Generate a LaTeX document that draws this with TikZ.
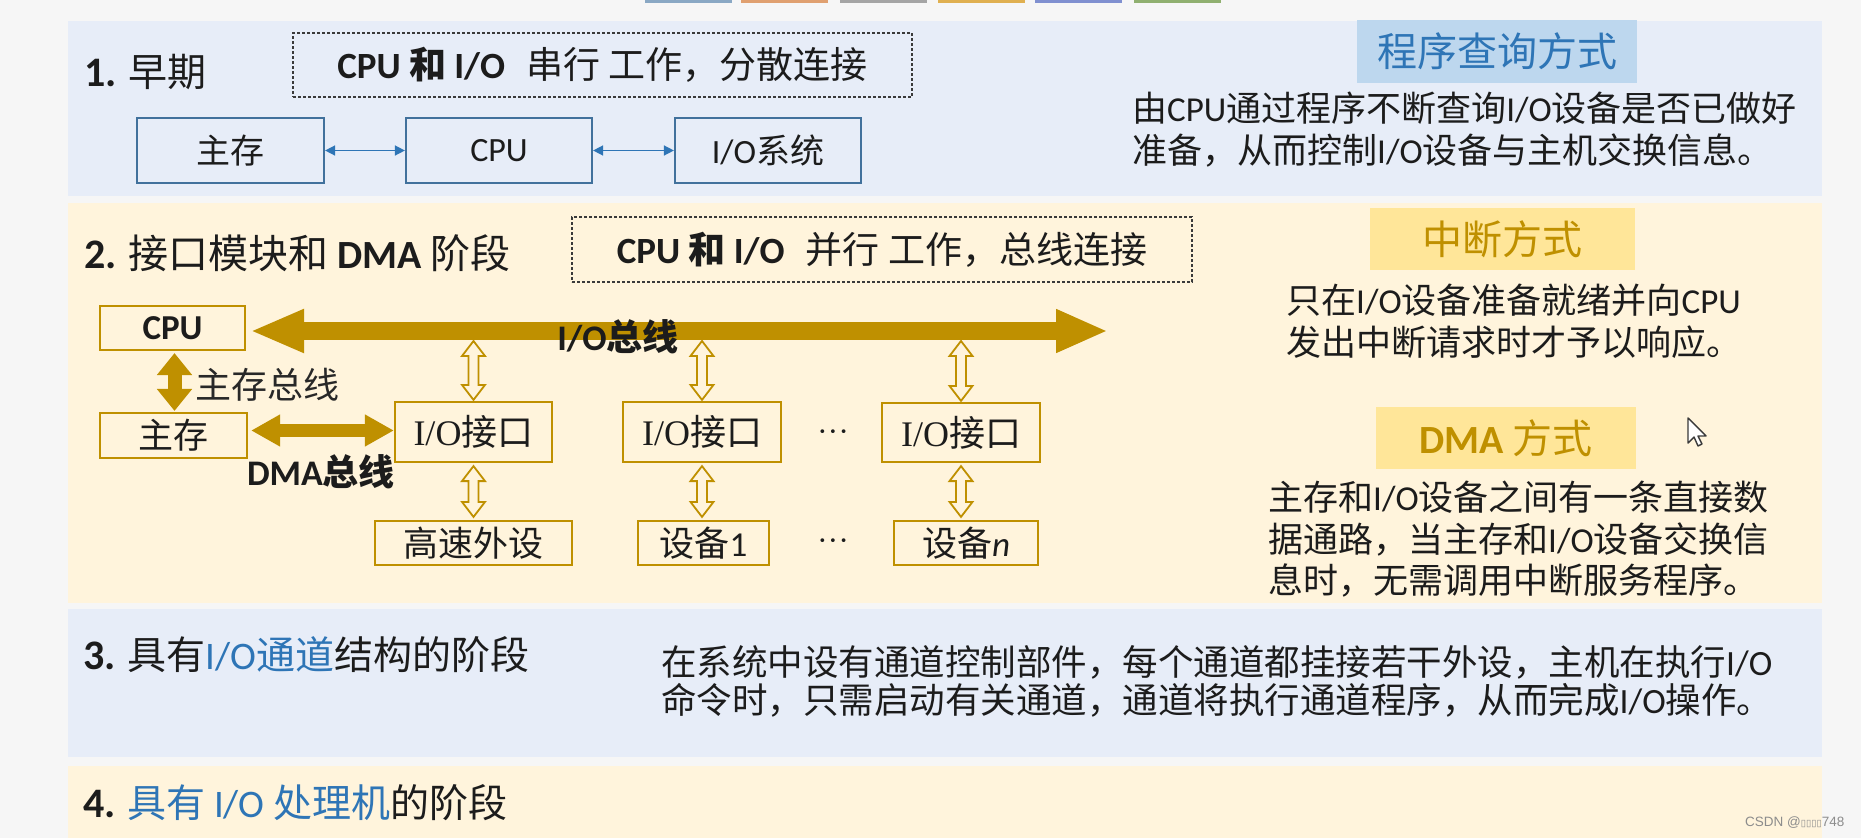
\documentclass[tikz,border=0pt]{standalone}
\usepackage{fontspec}
\setmainfont{Noto Sans CJK SC}
\newfontfamily\lat{Carlito}
\newfontfamily\lserif{Liberation Serif}
\newfontfamily\arialf{Liberation Sans}
\newfontfamily\dejavuf{DejaVu Sans}
\usetikzlibrary{arrows.meta,calc}
\definecolor{bg}{HTML}{F6F6F6}
\definecolor{pblue}{HTML}{E7EDF8}
\definecolor{pcream}{HTML}{FFF4DC}
\definecolor{gold}{HTML}{BF9000}
\definecolor{bedge}{HTML}{41719C}
\definecolor{barrow}{HTML}{2E75B6}
\definecolor{tblue}{HTML}{2E75B6}
\definecolor{lbfill}{HTML}{BDD7EE}
\definecolor{lgfill}{HTML}{FFE699}
\definecolor{tdark}{HTML}{1C1C1C}
\definecolor{dgray}{HTML}{3A3A3A}
\definecolor{wm}{HTML}{8C8C8C}
\newcommand\fz[1]{\fontsize{#1}{#1}\selectfont}
\newcommand\hollow[2]{\draw[hol] let \p1=(#1), \p2=(#2) in
  (\x1,\y1) -- (\x1+11.5pt,\y1-15pt) -- (\x1+5pt,\y1-15pt) -- (\x1+5pt,\y2+15pt)
  -- (\x1+11.5pt,\y2+15pt) -- (\x1,\y2) -- (\x1-11.5pt,\y2+15pt) -- (\x1-5pt,\y2+15pt)
  -- (\x1-5pt,\y1-15pt) -- (\x1-11.5pt,\y1-15pt) -- cycle;}
\newcommand\threedots{{\dejavuf\fz{13}•\hspace{3pt}•\hspace{3pt}•}}
\begin{document}
\begin{tikzpicture}[x=1pt,y=-1pt,
  txt/.style={inner sep=0pt, anchor=west, text=tdark},
  bbox/.style={draw=bedge, line width=2.2pt, inner sep=0pt, font=\fz{34}, text=tdark},
  gbox/.style={draw=gold, line width=2.2pt, inner sep=0pt, font=\fz{35}, text=tdark},
  dbox/.style={draw=dgray, line width=1.1pt, dash pattern=on 3pt off 2pt, inner sep=0pt, text=tdark},
  labb/.style={fill=lbfill, inner sep=0pt, font=\fz{40}, text=tblue},
  labg/.style={fill=lgfill, inner sep=0pt, font=\fz{40}, text=gold},
  barr/.style={draw=barrow, line width=1.5pt, {Triangle[length=10pt,width=10pt]}-{Triangle[length=10pt,width=10pt]}},
  gbar/.style={draw=gold},
  hol/.style={draw=gold, line width=1.8pt, fill=pcream, line join=miter},
  dotn/.style={inner sep=0pt, text=tdark},
  tab/.style={line width=0pt}
]
\useasboundingbox (0,0) rectangle (1861,838);
\fill[bg] (0,0) rectangle (1861,838);
% top tabs
\fill[tab, fill={rgb,255:red,138;green,168;blue,196}] (645,0) rectangle (732,3);
\fill[tab, fill={rgb,255:red,224;green,160;blue,112}] (741,0) rectangle (828,3);
\fill[tab, fill={rgb,255:red,165;green,165;blue,165}] (840,0) rectangle (927,3);
\fill[tab, fill={rgb,255:red,224;green,176;blue,80}] (938,0) rectangle (1025,3);
\fill[tab, fill={rgb,255:red,128;green,144;blue,208}] (1035,0) rectangle (1122,3);
\fill[tab, fill={rgb,255:red,144;green,176;blue,112}] (1134,0) rectangle (1221,3);
% panels
\fill[pblue] (68,21) rectangle (1822,196);
\fill[pcream] (68,203) rectangle (1822,603);
\fill[pblue] (68,609) rectangle (1822,757);
\fill[pcream] (68,766) rectangle (1822,838);

% ---------- panel 1
\node[txt, font=\fz{39}] (t1) at (84,72) {{\lat\bfseries\fz{42}1.} 早期};
\node[dbox, minimum width=619, minimum height=64, font=\fz{37}] (d1) at (602.5,65)
  {{\lat\bfseries CPU} \textbf{和} {\lat\bfseries I/O}\hspace{0.35em} 串行 工作，分散连接};
\node[bbox, minimum width=187, minimum height=65] (zc1) at (230.5,150.5) {主存};
\node[bbox, minimum width=186, minimum height=65] (cpu1) at (499,150.5) {\lat CPU};
\node[bbox, minimum width=186, minimum height=65] (io1) at (768,150.5) {{\lat I/O}系统};
\draw[barr] (zc1.east) -- (cpu1.west);
\draw[barr] (cpu1.east) -- (io1.west);
\node[labb, minimum width=280, minimum height=63] (l1) at (1497,51.5) {程序查询方式};
\node[txt, font=\fz{35}] (r1a) at (1132,108) {由{\lat CPU}通过程序不断查询{\lat I/O}设备是否已做好};
\node[txt, font=\fz{35}] (r1b) at (1132,150) {准备，从而控制{\lat I/O}设备与主机交换信息。};

% ---------- panel 2
\node[txt, font=\fz{40}] (t2) at (84,253) {{\lat\bfseries\fz{42}2.} 接口模块和 {\lat\bfseries DMA} 阶段};
\node[dbox, minimum width=620, minimum height=65, font=\fz{37}] (d2) at (882,249.5)
  {{\lat\bfseries CPU} \textbf{和} {\lat\bfseries I/O}\hspace{0.35em} 并行 工作，总线连接};
\node[gbox, minimum width=145, minimum height=44] (cpu2) at (172.5,328) {\lat\bfseries CPU};
\node[gbox, minimum width=147, minimum height=45] (zc2) at (173.5,435.5) {主存};
\node[gbox, minimum width=157, minimum height=60, font=\fz{36}] (if1) at (473.5,432) {{\lserif I/O}接口};
\node[gbox, minimum width=158, minimum height=60, font=\fz{36}] (if2) at (702,432) {{\lserif I/O}接口};
\node[gbox, minimum width=158, minimum height=59, font=\fz{36}] (if3) at (961,432.5) {{\lserif I/O}接口};
\node[gbox, minimum width=197, minimum height=44] (dv0) at (473.5,543) {高速外设};
\node[gbox, minimum width=131, minimum height=44] (dv1) at (703.5,543) {设备{\lat 1}};
\node[gbox, minimum width=144, minimum height=44] (dvn) at (966,543) {设备{\lat\itshape n}};
\node[dotn] (dots1) at (833,433) {\threedots};
\node[dotn] (dots2) at (833,542) {\threedots};
% I/O bus
\coordinate (busL) at ($(cpu2.east)+(4,3)$);
\coordinate (busR) at (1108,331);
\draw[gbar, line width=18pt, {Triangle[length=54pt,width=40pt]}-{Triangle[length=52pt,width=40pt]}] (busL) -- (busR);
\node[inner sep=0pt, font=\fz{36}, text=tdark] (busl) at (618,337) {{\lat\bfseries I/O}\textbf{总线}};
% memory bus
\draw[gbar, line width=14pt, {Triangle[length=22pt,width=34pt]}-{Triangle[length=22pt,width=34pt]}]
  ($(cpu2.south)+(2,2)$) -- ($(zc2.north)+(1,-1)$);
\node[txt, font=\fz{36}, text={rgb,255:red,40;green,40;blue,40}] (mbl) at (195,385) {主存总线};
% DMA bus
\coordinate (dmaL) at ($(zc2.east)+(3,-5)$);
\draw[gbar, line width=13pt, {Triangle[length=29pt,width=30pt]}-{Triangle[length=29pt,width=30pt]}]
  (dmaL) -- (dmaL -| if1.west);
\node[inner sep=0pt, font=\fz{36}, text=tdark] (dmal) at (321,472) {{\lat\bfseries DMA}\textbf{总线}};
% hollow arrows
\coordinate (busbot) at (0,341);
\hollow{if1.north |- busbot}{$(if1.north)+(0,-1)$}
\hollow{if2.north |- busbot}{$(if2.north)+(0,-1)$}
\hollow{if3.north |- busbot}{$(if3.north)+(0,-1)$}
\hollow{$(if1.south)+(0,3)$}{$(if1.south |- dv0.north)+(0,-3)$}
\hollow{$(if2.south)+(0,3)$}{$(if2.south |- dv1.north)+(0,-3)$}
\hollow{$(if3.south)+(0,3)$}{$(if3.south |- dvn.north)+(0,-3)$}
% right side
\node[labg, minimum width=265, minimum height=62] (l2) at (1502.5,239) {中断方式};
\node[txt, font=\fz{35}] (r2a) at (1286,300) {只在{\lat I/O}设备准备就绪并向{\lat CPU}};
\node[txt, font=\fz{35}] (r2b) at (1286,342) {发出中断请求时才予以响应。};
\node[labg, minimum width=260, minimum height=62] (l3) at (1506,438) {{\lat\bfseries DMA} 方式};
\node[txt, font=\fz{35}] (r3a) at (1268,497) {主存和{\lat I/O}设备之间有一条直接数};
\node[txt, font=\fz{35}] (r3b) at (1268,540) {据通路，当主存和{\lat I/O}设备交换信};
\node[txt, font=\fz{35}] (r3c) at (1268,580) {息时，无需调用中断服务程序。};
% cursor
\draw[fill=white, draw=dgray, line width=1.4pt, line join=round]
  (1688,418) -- (1688,443) -- (1694,437) -- (1698,446) -- (1702,444) -- (1698,436) -- (1706,436) -- cycle;

% ---------- panel 3
\node[txt, font=\fz{39}] (t3) at (83,655) {{\lat\bfseries\fz{42}3.} 具有\textcolor{tblue}{{\lat I/O}通道}结构的阶段};
\node[txt, font=\fz{35.5}] (r4a) at (661,662) {在系统中设有通道控制部件，每个通道都挂接若干外设，主机在执行{\lat I/O}};
\node[txt, font=\fz{35.5}] (r4b) at (661,700) {命令时，只需启动有关通道，通道将执行通道程序，从而完成{\lat I/O}操作。};

% ---------- panel 4
\node[txt, font=\fz{39}] (t4) at (83,803) {{\lat\bfseries\fz{42}4.} \textcolor{tblue}{具有 {\lat I/O} 处理机}的阶段};
\node[txt, font=\fz{13.5}, text=wm] (wmk) at (1745,823) {{\arialf CSDN @}{\dejavuf\fz{9.5}▯▯▯▯}{\arialf 748}};
\end{tikzpicture}
\end{document}
